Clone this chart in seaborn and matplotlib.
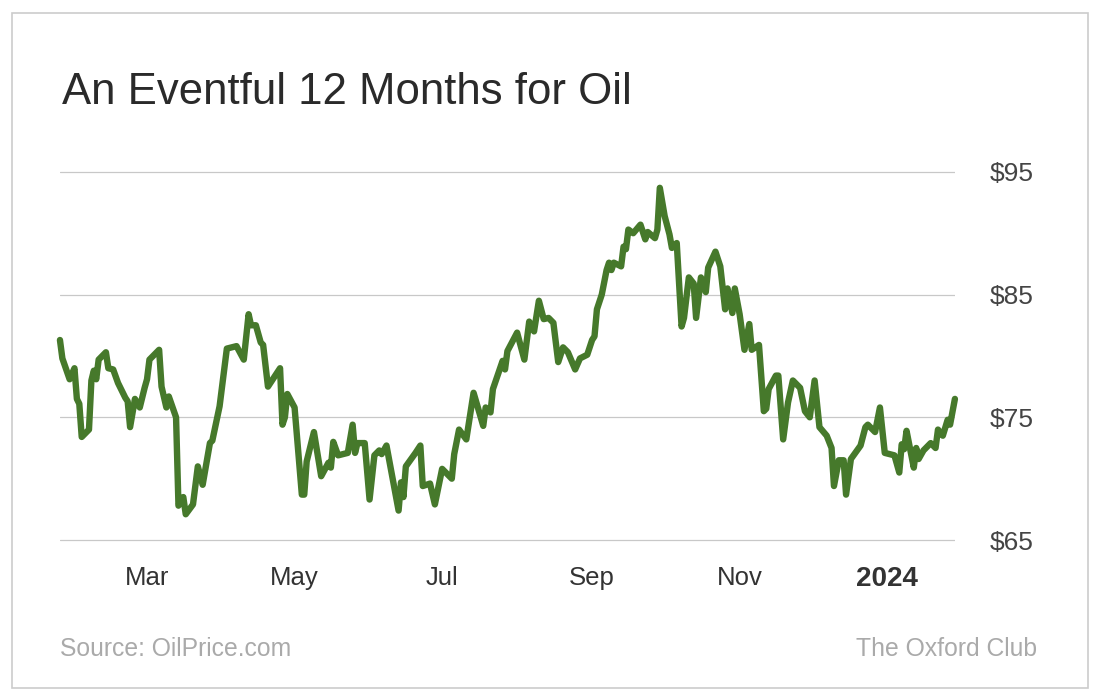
import matplotlib
matplotlib.use("Agg")
import matplotlib.pyplot as plt
import matplotlib.dates as mdates
from matplotlib.patches import Rectangle
import seaborn as sns
import pandas as pd

# WTI crude
dates = [
    "2023-01-24", "2023-01-25", "2023-01-28", "2023-01-30", "2023-01-31",
    "2023-02-01", "2023-02-02", "2023-02-05", "2023-02-06", "2023-02-07",
    "2023-02-08", "2023-02-09", "2023-02-12", "2023-02-13", "2023-02-15",
    "2023-02-17", "2023-02-20", "2023-02-21", "2023-02-22", "2023-02-24",
    "2023-02-26", "2023-02-28", "2023-03-01", "2023-03-02", "2023-03-06",
    "2023-03-07", "2023-03-09", "2023-03-10", "2023-03-13", "2023-03-14",
    "2023-03-16", "2023-03-17", "2023-03-20", "2023-03-22", "2023-03-24",
    "2023-03-27", "2023-03-28", "2023-03-31", "2023-04-03", "2023-04-05",
    "2023-04-07", "2023-04-10", "2023-04-12", "2023-04-13", "2023-04-15",
    "2023-04-17", "2023-04-18", "2023-04-20", "2023-04-22", "2023-04-25",
    "2023-04-26", "2023-04-27", "2023-04-28", "2023-05-01", "2023-05-04",
    "2023-05-05", "2023-05-06", "2023-05-09", "2023-05-12", "2023-05-15",
    "2023-05-16", "2023-05-17", "2023-05-19", "2023-05-23", "2023-05-25",
    "2023-05-26", "2023-05-27", "2023-05-30", "2023-06-01", "2023-06-03",
    "2023-06-05", "2023-06-06", "2023-06-08", "2023-06-13", "2023-06-14",
    "2023-06-15", "2023-06-16", "2023-06-20", "2023-06-22", "2023-06-23",
    "2023-06-26", "2023-06-28", "2023-07-01", "2023-07-05", "2023-07-06",
    "2023-07-08", "2023-07-11", "2023-07-14", "2023-07-18", "2023-07-19",
    "2023-07-21", "2023-07-22", "2023-07-26", "2023-07-27", "2023-07-28",
    "2023-08-01", "2023-08-04", "2023-08-06", "2023-08-08", "2023-08-10",
    "2023-08-12", "2023-08-14", "2023-08-16", "2023-08-18", "2023-08-20",
    "2023-08-22", "2023-08-25", "2023-08-27", "2023-08-30", "2023-09-01",
    "2023-09-02", "2023-09-03", "2023-09-05", "2023-09-07", "2023-09-08",
    "2023-09-09", "2023-09-10", "2023-09-13", "2023-09-14", "2023-09-15",
    "2023-09-16", "2023-09-18", "2023-09-21", "2023-09-23", "2023-09-24",
    "2023-09-27", "2023-09-28", "2023-09-29", "2023-10-01", "2023-10-03",
    "2023-10-04", "2023-10-06", "2023-10-08", "2023-10-09", "2023-10-11",
    "2023-10-13", "2023-10-14", "2023-10-16", "2023-10-18", "2023-10-19",
    "2023-10-22", "2023-10-24", "2023-10-26", "2023-10-27", "2023-10-29",
    "2023-10-30", "2023-11-01", "2023-11-03", "2023-11-05", "2023-11-06",
    "2023-11-09", "2023-11-11", "2023-11-12", "2023-11-13", "2023-11-16",
    "2023-11-17", "2023-11-19", "2023-11-21", "2023-11-23", "2023-11-26",
    "2023-11-28", "2023-11-30", "2023-12-02", "2023-12-04", "2023-12-07",
    "2023-12-09", "2023-12-10", "2023-12-12", "2023-12-14", "2023-12-15",
    "2023-12-17", "2023-12-21", "2023-12-23", "2023-12-24", "2023-12-27",
    "2023-12-29", "2023-12-31", "2024-01-04", "2024-01-06", "2024-01-07",
    "2024-01-08", "2024-01-09", "2024-01-12", "2024-01-13", "2024-01-14",
    "2024-01-16", "2024-01-19", "2024-01-21", "2024-01-22", "2024-01-24",
    "2024-01-26", "2024-01-27", "2024-01-29",
]
prices = [
    81.3, 79.8, 78.1, 79.0, 76.5,
    76.1, 73.4, 74.0, 78.0, 78.8,
    78.1, 79.7, 80.3, 79.0, 78.9,
    77.8, 76.6, 76.3, 74.2, 76.5,
    75.8, 77.4, 78.1, 79.7, 80.5,
    77.5, 75.8, 76.7, 75.0, 67.8,
    68.5, 67.1, 67.9, 71.0, 69.5,
    72.9, 73.1, 75.9, 80.6, 80.7,
    80.8, 79.7, 83.4, 82.5, 82.5,
    81.1, 80.9, 77.5, 78.1, 79.0,
    74.4, 75.0, 76.9, 75.8, 68.7,
    68.7, 71.4, 73.8, 70.2, 71.3,
    70.9, 73.0, 71.9, 72.1, 74.4,
    72.1, 72.9, 72.9, 68.3, 71.9,
    72.3, 72.0, 72.7, 67.4, 69.7,
    68.5, 71.0, 72.1, 72.7, 69.4,
    69.6, 67.9, 70.8, 70.0, 72.0,
    74.0, 73.2, 77.0, 74.3, 75.8,
    75.4, 77.3, 79.6, 78.9, 80.4,
    81.9, 79.7, 82.8, 82.0, 84.5,
    83.0, 83.1, 82.7, 79.5, 80.7,
    80.3, 78.9, 79.8, 80.1, 81.3,
    81.6, 83.8, 85.0, 87.0, 87.6,
    87.0, 87.6, 87.3, 88.9, 88.7,
    90.3, 90.0, 90.7, 89.5, 90.1,
    89.6, 90.3, 93.7, 91.4, 89.9,
    88.8, 89.2, 82.4, 83.1, 86.4,
    85.9, 83.1, 86.4, 85.2, 87.2,
    88.5, 87.3, 83.8, 85.5, 83.5,
    85.5, 83.4, 80.5, 82.6, 80.5,
    80.9, 75.5, 75.7, 77.3, 78.4,
    78.4, 73.2, 76.2, 78.0, 77.4,
    75.5, 75.0, 78.0, 74.2, 73.5,
    72.5, 69.4, 71.5, 71.5, 68.7,
    71.6, 72.7, 74.2, 74.4, 73.8,
    75.8, 72.1, 71.9, 70.5, 72.8,
    72.4, 73.9, 70.9, 72.5, 71.6,
    72.3, 72.9, 72.5, 74.0, 73.5,
    74.8, 74.4, 76.5,
]
month_ticks = ["2023-03-01", "2023-05-01", "2023-07-01", "2023-09-01", "2023-11-01", "2024-01-01"]
month_labels = ["Mar", "May", "Jul", "Sep", "Nov", "2024"]
price_ticks = [65, 75, 85, 95]

df = pd.DataFrame({"date": pd.to_datetime(dates), "price": prices})

sns.set_style("white")
plt.rcParams["font.family"] = ["Liberation Sans", "DejaVu Sans"]

fig = plt.figure(figsize=(11, 7), dpi=100)
ax = fig.add_axes([0.0545, 0.211, 0.8136, 0.561])

sns.lineplot(data=df, x="date", y="price", color="#46792b", linewidth=4.6, ax=ax)
for line in ax.lines:
    line.set_clip_on(False)
    line.set_solid_joinstyle("round")

ax.set_xlim(df["date"].min(), df["date"].max())
ax.set_ylim(64, 96)
ax.set_xlabel("")
ax.set_ylabel("")

ax.set_yticks(price_ticks)
ax.set_yticklabels([f"${v}" for v in price_ticks])
ax.yaxis.tick_right()
ax.yaxis.grid(True, color="#c8c8c8", linewidth=0.9)
ax.xaxis.grid(False)
ax.set_axisbelow(True)

ax.set_xticks(mdates.date2num(pd.to_datetime(month_ticks)))
ax.set_xticklabels(month_labels)
ax.tick_params(axis="x", length=0, pad=10, labelsize=18.5, labelcolor="#333333")
ax.tick_params(axis="y", length=0, pad=25, labelsize=19, labelcolor="#444444")
last = ax.get_xticklabels()[-1]
last.set_fontweight("bold")
last.set_fontsize(20)

for s in ax.spines.values():
    s.set_visible(False)

fig.patches.append(Rectangle((0.0109, 0.0171), 0.978, 0.964, transform=fig.transFigure,
                             fill=False, edgecolor="#cccccc", linewidth=1.2))

fig.text(0.0564, 0.851, "An Eventful 12 Months for Oil", fontsize=31.5,
         color="#2a2a2a", va="baseline", ha="left")
fig.text(0.0545, 0.063, "Source: OilPrice.com", fontsize=17.8, color="#aaaaaa",
         va="baseline", ha="left")
fig.text(0.9427, 0.063, "The Oxford Club", fontsize=17.8, color="#aaaaaa",
         va="baseline", ha="right")

fig.savefig("out.png", dpi=100, facecolor="white")
